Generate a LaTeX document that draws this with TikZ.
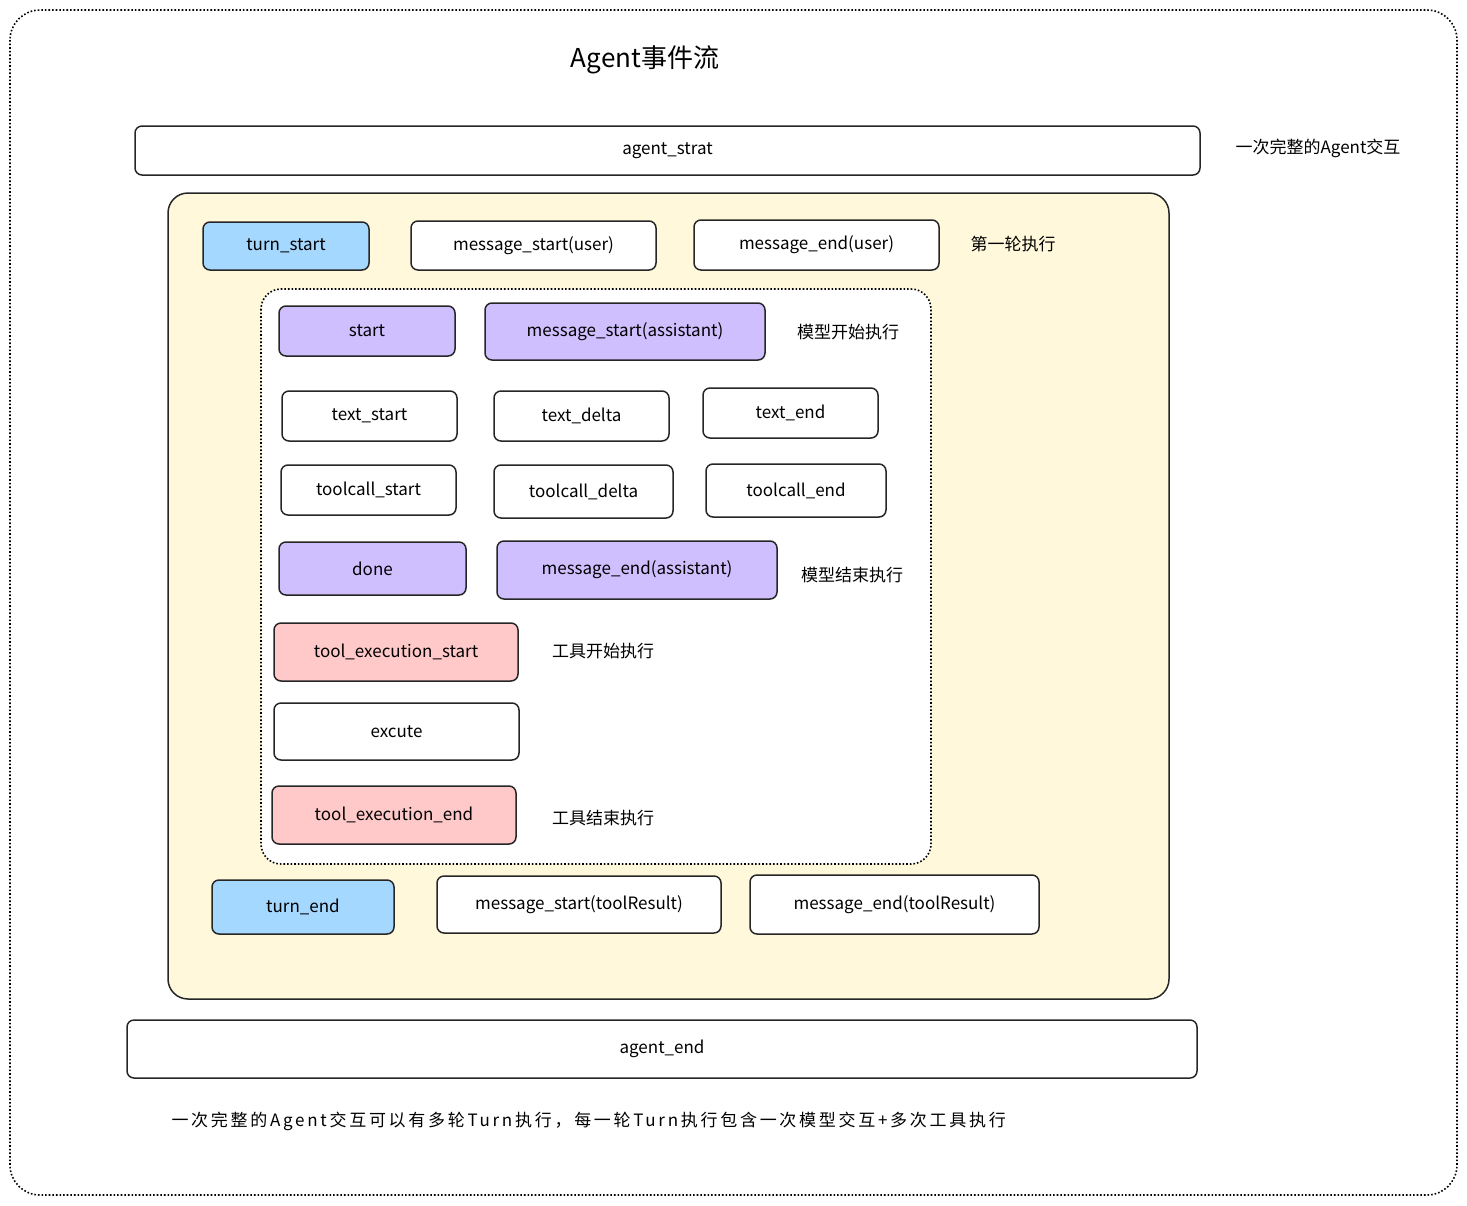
\documentclass[tikz,border=0pt]{standalone}
\usepackage{fontspec}
\setmainfont{Noto Sans CJK SC}
\begin{document}
\begin{tikzpicture}[x=1pt,y=-1pt,
  box/.style={draw=black!85,line width=1.5pt,rounded corners=7pt,fill=white,inner sep=0pt,font=\fontsize{17}{20}\selectfont},
  lbl/.style={font=\fontsize{17}{20}\selectfont,anchor=center},
  blue/.style={box,fill=cBlue},purp/.style={box,fill=cPurp},pink/.style={box,fill=cPink}]
\definecolor{cBlue}{HTML}{A5D8FF}
\definecolor{cPurp}{HTML}{D0BFFF}
\definecolor{cPink}{HTML}{FFC9C9}
\definecolor{cYel}{HTML}{FFF8DB}
\useasboundingbox (0,0) rectangle (1467,1205);
\draw[dotted,line width=1.6pt,rounded corners=30pt] (10,10) rectangle (1457,1195);
\node[font=\fontsize{26}{30}\selectfont] (title) at (645,60) {Agent事件流};
\draw[draw=black!85,line width=1.5pt,fill=cYel,rounded corners=20pt] (168,193) rectangle (1169,999);
\draw[fill=white,dotted,line width=1.6pt,rounded corners=20pt] (261,289) rectangle (931,864);
\foreach \a/\b/\c/\d/\s/\t/\n in {
 135/126/1200/175/box/agent\_strat/as,
 203/222/369/270/blue/turn\_start/ts,
 411/221/656/270/box/message\_start(user)/msu,
 694/220/939/270/box/message\_end(user)/meu,
 279/306/455/356/purp/start/st,
 485/303/765/360/purp/message\_start(assistant)/msa,
 282/391/457/441/box/text\_start/txs,
 494/391/669/441/box/text\_delta/txd,
 703/388/878/438/box/text\_end/txe,
 281/465/456/515/box/toolcall\_start/tcs,
 494/465/673/518/box/toolcall\_delta/tcd,
 706/464/886/517/box/toolcall\_end/tce,
 279/542/466/595/purp/done/dn,
 497/541/777/599/purp/message\_end(assistant)/mea,
 274/623/518/681/pink/tool\_execution\_start/tes,
 274/703/519/760/box/excute/ex,
 272/786/516/844/pink/tool\_execution\_end/tee,
 212/880/394/934/blue/turn\_end/te,
 437/876/721/933/box/message\_start(toolResult)/mst,
 750/875/1039/934/box/message\_end(toolResult)/met,
 127/1020/1197/1078/box/agent\_end/ae}
{\node[\s,minimum width={\c-\a},minimum height={\d-\b}] (\n) at ({(\a+\c)/2},{(\b+\d)/2}) {\t};}
\node[lbl] (l1) at (1318,148) {一次完整的Agent交互};
\node[lbl] (l2) at (1013,244) {第一轮执行};
\node[lbl] (l3) at (848,332) {模型开始执行};
\node[lbl] (l4) at (852,575) {模型结束执行};
\node[lbl] (l5) at (603,651) {工具开始执行};
\node[lbl] (l6) at (603,818) {工具结束执行};
\node[lbl,anchor=west] (l7) at (168,1121) {\addfontfeatures{LetterSpace=16}一次完整的Agent交互可以有多轮Turn执行，每一轮Turn执行包含一次模型交互+多次工具执行};
\end{tikzpicture}
\end{document}
